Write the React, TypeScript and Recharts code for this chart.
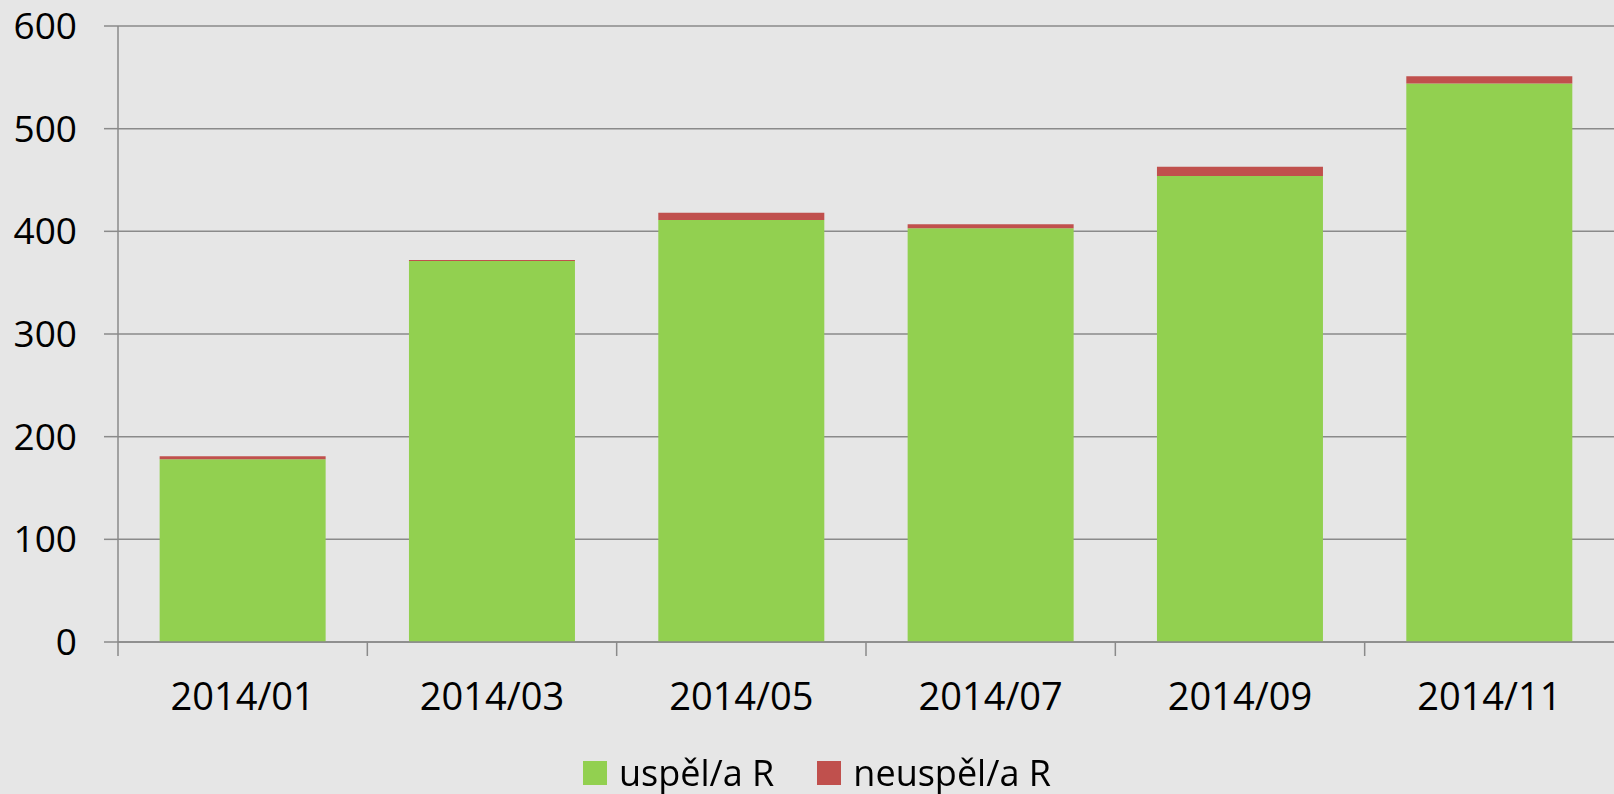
import { BarChart, Bar, XAxis, YAxis, CartesianGrid, Legend } from 'recharts'

const months = ['2014/01', '2014/03', '2014/05', '2014/07', '2014/09', '2014/11']
const passed = [178, 371, 411, 403, 454, 544]
const failed = [3, 1, 7, 4, 9, 7]
const yTicks = [0, 100, 200, 300, 400, 500, 600]

const data = months.map((m, i) => ({ month: m, passed: passed[i], failed: failed[i] }))

const W = 1614
const H = 794
const Y_W = 118
const M_RIGHT = 0
const STEP = (W - Y_W - M_RIGHT) / months.length
const FONT = '"Open Sans", sans-serif'
const AXIS = '#8a8a8a'
const GREEN = '#92d050'
const RED = '#c0504d'

const MonthTick = (props: any) => {
  const { x, y, payload } = props
  const left = x - STEP / 2
  return (
    <g>
      <line x1={left} y1={y} x2={left} y2={y + 14} stroke={AXIS} strokeWidth={1.5} />
      <text x={x} y={y + 68} textAnchor="middle" fontFamily={FONT} fontSize={38} fill="#000">
        {payload.value}
      </text>
    </g>
  )
}

const LegendBox = () => (
  <div style={{ display: 'flex', justifyContent: 'center', alignItems: 'center', height: 62, paddingLeft: 20, fontFamily: FONT, fontSize: 36, color: '#000' }}>
    {[{ name: 'uspěl/a R', color: GREEN }, { name: 'neuspěl/a R', color: RED }].map((it, i) => (
      <div key={i} style={{ display: 'flex', alignItems: 'center', marginLeft: i ? 43 : 0, paddingTop: 20 }}>
        <span style={{ width: 24, height: 24, background: it.color, marginRight: 12, display: 'inline-block' }} />
        <span style={{ lineHeight: 1 }}>{it.name}</span>
      </div>
    ))}
  </div>
)

export default function App() {
  return (
    <div style={{ position: 'fixed', left: 0, top: 0, width: W, height: H, background: '#e6e6e6' }}>
      <BarChart width={W} height={H} data={data} margin={{ top: 26, right: M_RIGHT, left: 0, bottom: 0 }} barCategoryGap="16.7%">
        <CartesianGrid vertical={false} stroke={AXIS} strokeWidth={1.5} />
        <XAxis
          dataKey="month"
          height={90}
          axisLine={{ stroke: AXIS, strokeWidth: 1.5 }}
          tickLine={false}
          tickSize={0}
          tickMargin={0}
          tick={<MonthTick />}
          interval={0}
        />
        <YAxis
          width={Y_W}
          domain={[0, 600]}
          ticks={yTicks}
          axisLine={{ stroke: AXIS, strokeWidth: 1.5 }}
          tickLine={{ stroke: AXIS, strokeWidth: 1.5 }}
          tickSize={14}
          tickMargin={27}
          tick={{ fill: '#000', fontFamily: FONT, fontSize: 37 }}
        />
        <Legend verticalAlign="bottom" height={62} content={<LegendBox />} />
        <Bar dataKey="passed" name="uspěl/a R" stackId="a" fill={GREEN} isAnimationActive={false} />
        <Bar dataKey="failed" name="neuspěl/a R" stackId="a" fill={RED} isAnimationActive={false} />
      </BarChart>
    </div>
  )
}
